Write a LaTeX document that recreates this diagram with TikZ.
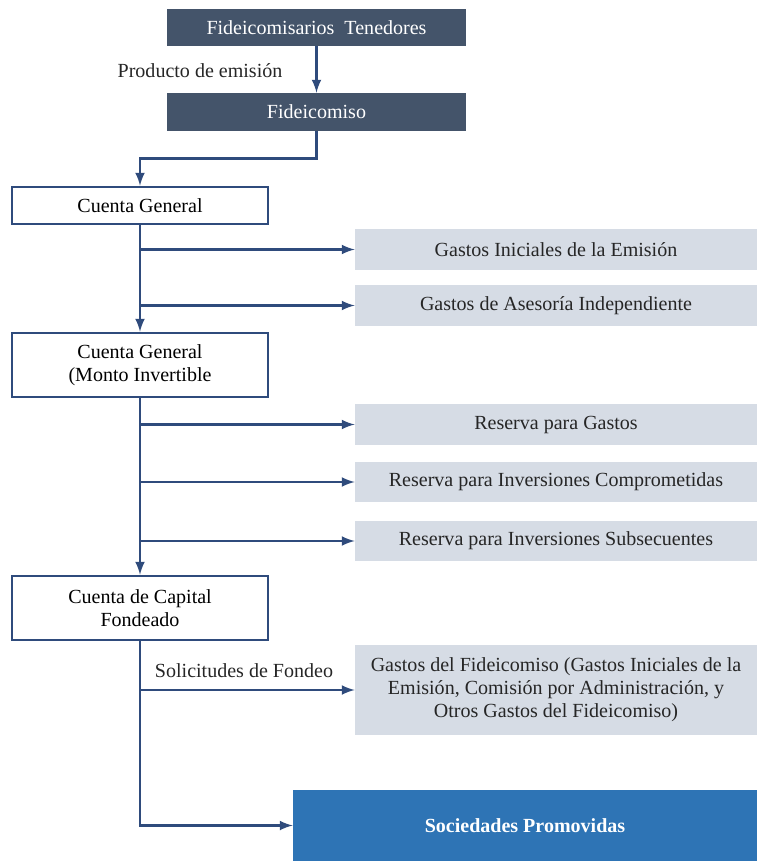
\documentclass[tikz,border=0pt]{standalone}
\usepackage{fontspec}
\setmainfont{Liberation Serif}
\usepackage{tikz}

\definecolor{pizarra}{HTML}{44546A}
\definecolor{azulflecha}{HTML}{2F4B7C}
\definecolor{grisclaro}{HTML}{D6DCE5}
\definecolor{azulsoc}{HTML}{2E74B5}

\tikzset{
  oscura/.style={fill=pizarra, text=white, minimum width=5.98cm, minimum height=0.74cm, inner sep=0pt},
  cuenta/.style={draw=azulflecha, line width=1.6pt, fill=white, minimum width=5.12cm, inner sep=0pt, align=center},
  gasto/.style={fill=grisclaro, text=black!85, minimum width=8.04cm, inner sep=0pt, align=center},
  flecha/.style={draw=azulflecha, line width=1.5pt, -latex},
  etiqueta/.style={text=black!85, inner sep=0pt}
}

\begin{document}
\begin{tikzpicture}[x=0.02cm, y=-0.02cm, font=\fontsize{11.4}{13}\selectfont]

\useasboundingbox (0,0) rectangle (757,861);

% cajas superiores
\node[oscura] (ten) at (316.5,27.5) {Fideicomisarios\ \ Tenedores};
\node[oscura, minimum height=0.76cm] (fid) at (316.5,112) {Fideicomiso};
\node[etiqueta] (prod) at (200,71) {Producto de emisión};

% cuentas
\node[cuenta, minimum height=0.74cm] (cg1) at (140,205.5) {Cuenta General};
\node[cuenta, minimum height=1.28cm] (cg2) at (140,365) {Cuenta General\\(Monto Invertible};
\node[cuenta, minimum height=1.28cm] (ccf) at (140,608) {Cuenta de Capital\\Fondeado};

% destinos
\node[gasto, minimum height=0.82cm] (gi) at (556,249.5) {Gastos Iniciales de la Emisión};
\node[gasto, minimum height=0.82cm] (ga) at (556,305.5) {Gastos de Asesoría Independiente};
\node[gasto, minimum height=0.82cm] (rg) at (556,424.5) {Reserva para Gastos};
\node[gasto, minimum height=0.80cm] (rc) at (556,482) {Reserva para Inversiones Comprometidas};
\node[gasto, minimum height=0.80cm] (rs) at (556,541) {Reserva para Inversiones Subsecuentes};
\node[gasto, minimum height=1.80cm] (gf) at (556,690) {Gastos del Fideicomiso (Gastos Iniciales de la\\Emisión, Comisión por Administración, y\\Otros Gastos del Fideicomiso)};
\node[fill=azulsoc, text=white, font=\fontsize{11.4}{13}\selectfont\bfseries, minimum width=9.28cm, minimum height=1.42cm, inner sep=0pt] (soc) at (525,825.5) {Sociedades Promovidas};
\node[etiqueta] (sol) at (244,671) {Solicitudes de Fondeo};

% flujo
\draw[flecha] (ten.south) -- (fid.north);
\draw[flecha] (fid.south) -- ++(0,27) -| (cg1.north);

\draw[flecha] (cg1.south) -- (cg2.north);
\draw[flecha] (cg1.south |- gi.west) -- (gi.west);
\draw[flecha] (cg1.south |- ga.west) -- (ga.west);

\draw[flecha] (cg2.south) -- (ccf.north);
\draw[flecha] (cg2.south |- rg.west) -- (rg.west);
\draw[flecha] (cg2.south |- rc.west) -- (rc.west);
\draw[flecha] (cg2.south |- rs.west) -- (rs.west);

\draw[flecha] (ccf.south) |- (soc.west);
\draw[flecha] (ccf.south |- gf.west) -- (gf.west);

\end{tikzpicture}
\end{document}
